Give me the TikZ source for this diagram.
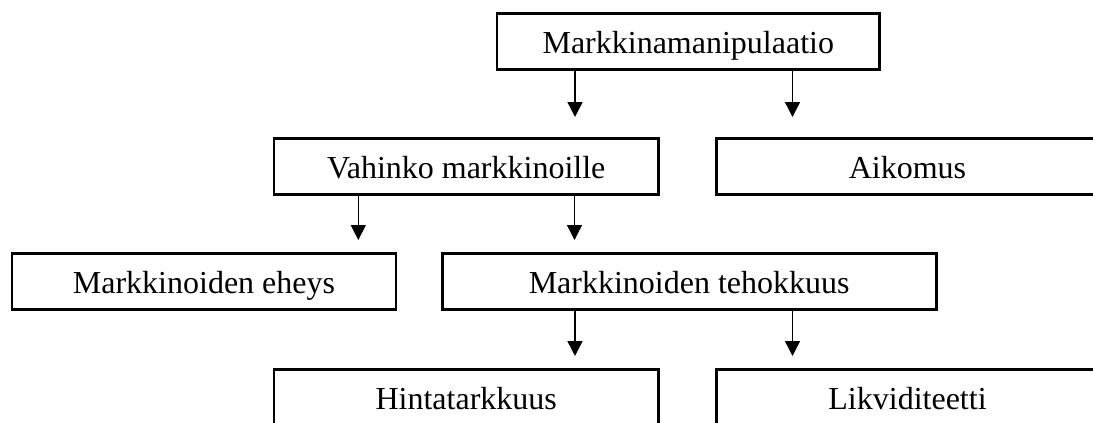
\documentclass[tikz,border=0pt]{standalone}
\usepackage{fontspec}
\setmainfont{Liberation Serif}
\usetikzlibrary{arrows.meta}
\begin{document}
\begin{tikzpicture}[x=1pt,y=-1pt,
  box/.style={draw=black,line width=2.8pt,rectangle,inner sep=0pt,
    minimum height=56pt,text height=24pt,text depth=0pt,
    font=\fontsize{32}{38}\selectfont},
  arr/.style={draw=black,line width=1.4pt,-{Triangle[length=15pt,width=15pt]}}]
\useasboundingbox (0,0) rectangle (1093,423);
\node[box,minimum width=382.5pt] (top) at (688.3,41.5) {Markkinamanipulaatio};
\node[box,minimum width=384.5pt] (vah) at (466.3,166.1) {Vahinko markkinoille};
\node[box,minimum width=382.5pt] (aik) at (907.5,166.1) {Aikomus};
\node[box,minimum width=384pt] (ehe) at (204,281.3) {Markkinoiden eheys};
\node[box,minimum width=494pt] (teh) at (689.2,281.5) {Markkinoiden tehokkuus};
\node[box,minimum width=384.5pt] (hin) at (466.2,397.5) {Hintatarkkuus};
\node[box,minimum width=382.5pt] (lik) at (907.5,397.5) {Likviditeetti};
\coordinate (a1) at (575,117);
\coordinate (a2) at (792.5,117);
\coordinate (b1) at (358.3,240);
\coordinate (b2) at (574.5,240);
\coordinate (c1) at (575,356);
\coordinate (c2) at (792.5,356);
\draw[arr] (a1 |- top.south) -- (a1);
\draw[arr] (a2 |- top.south) -- (a2);
\draw[arr] (b1 |- vah.south) -- (b1);
\draw[arr] (b2 |- vah.south) -- (b2);
\draw[arr] (c1 |- teh.south) -- (c1);
\draw[arr] (c2 |- teh.south) -- (c2);
\end{tikzpicture}
\end{document}
